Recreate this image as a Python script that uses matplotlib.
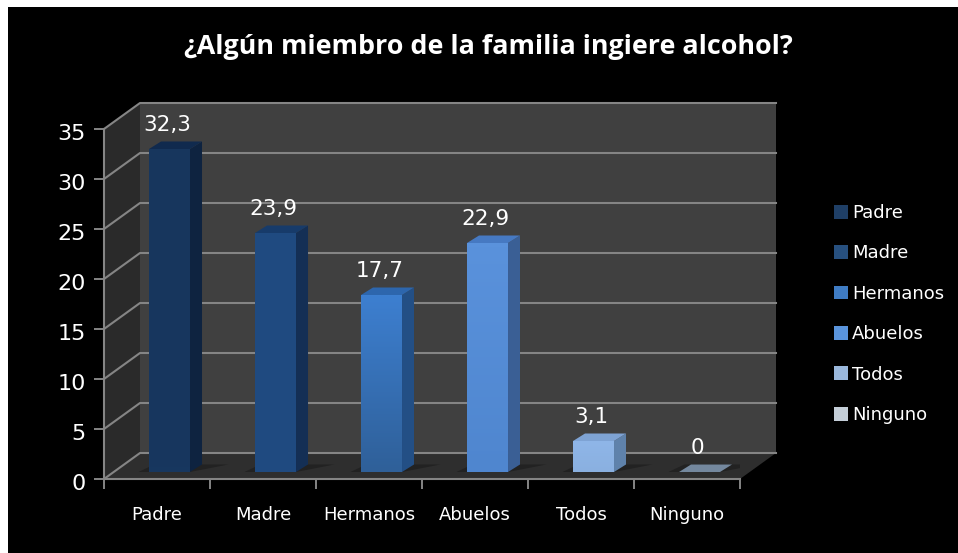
import matplotlib
matplotlib.use('Agg')
import matplotlib.pyplot as plt
from matplotlib.patches import Polygon, Patch
from matplotlib.transforms import ScaledTranslation
import numpy as np

categories = ['Padre', 'Madre', 'Hermanos', 'Abuelos', 'Todos', 'Ninguno']
values = [32.3, 23.9, 17.7, 22.9, 3.1, 0]
value_labels = ['32,3', '23,9', '17,7', '22,9', '3,1', '0']
yticks = [0, 5, 10, 15, 20, 25, 30, 35]
front_top = ['#17365d', '#1f4a80', '#3d7fd0', '#5a92dc', '#8fb6e8', '#a0b4cc']
front_bot = ['#17375f', '#1f4a80', '#2f6099', '#4f86cf', '#8ab0e0', '#a0b4cc']
side = ['#0e2340', '#142f55', '#234f85', '#3a5f95', '#5f82ab', '#6d8096']
top = ['#102a4e', '#173b6a', '#2d66ad', '#4679c2', '#7ea3d4', '#74889e']
legend_cols = ['#1f3f66', '#27507f', '#3f7cc4', '#5a94dc', '#9ab8dc', '#c4ced8']

W, H = 958, 553
fig = plt.figure(figsize=(W / 100, H / 100), dpi=100, facecolor='white')
bg = fig.add_axes([8 / W, 0, 1 - 8 / W, 1 - 7 / H], facecolor='black')
bg.set_xticks([])
bg.set_yticks([])
for s in bg.spines.values():
    s.set_visible(False)

# front plane of the fake 3d box: x 104-740, y 479-129 px
ax = fig.add_axes([104 / W, (H - 479) / H, 636 / W, 350 / H], facecolor='none')
ax.set_xlim(0, 6)
ax.set_ylim(0, 35)
for s in ax.spines.values():
    s.set_visible(False)

dx, dy = 36 / 106, 2.6    # depth of the box
bx, by = 0.118, 0.7       # bars stand a bit behind the front
bw = 41 / 106
bdx, bdy = 12 / 106, 0.75  # depth of each bar
grid = '#858585'

# walls
ax.add_patch(Polygon([(dx, dy), (6 + dx, dy), (6 + dx, 35 + dy), (dx, 35 + dy)],
                     fc='#404040', ec='none', clip_on=False, zorder=1))
ax.add_patch(Polygon([(0, 0), (dx, dy), (dx, 35 + dy), (0, 35)], fc='#2a2a2a', ec='none', clip_on=False, zorder=1))
ax.add_patch(Polygon([(0, 0), (6, 0), (6 + dx, dy), (dx, dy)], fc='#2e2e2e', ec='none', clip_on=False, zorder=1))

# gridlines and axes
for t in yticks:
    ax.plot([0, dx, 6 + dx], [t, t + dy, t + dy], color=grid, lw=1.5, clip_on=False, zorder=2)
ax.plot([0, 0], [0, 35], color=grid, lw=1.5, clip_on=False, zorder=3)
ax.plot([0, 6], [0, 0], color=grid, lw=1.5, clip_on=False, zorder=3)

# bars
for i, v in enumerate(values):
    x0 = i + 0.5 + bx - bw / 2
    x1 = x0 + bw
    ax.add_patch(Polygon([(x0 - 0.1, by), (x1, by), (x1 + bdx + 0.25, by + bdy), (x0 + 0.05, by + bdy)],
                         fc='#222222', ec='none', zorder=4))
    if v > 0:
        grad = np.linspace(0, 1, 64)[:, None, None]
        c0 = np.array(matplotlib.colors.to_rgb(front_top[i]))
        c1 = np.array(matplotlib.colors.to_rgb(front_bot[i]))
        ax.imshow(c0 + (c1 - c0) * grad, extent=[x0, x1, by, v + by], aspect='auto', zorder=5)
        ax.add_patch(Polygon([(x1, by), (x1 + bdx, by + bdy), (x1 + bdx, v + by + bdy), (x1, v + by)],
                             fc=side[i], ec='none', zorder=5))
    ax.add_patch(Polygon([(x0, v + by), (x1, v + by), (x1 + bdx, v + by + bdy), (x0 + bdx, v + by + bdy)],
                         fc=top[i], ec='none', zorder=5))
    ax.text(i + 0.5 + bx - 0.02, v + by + 1.4, value_labels[i], color='white', fontsize=15.5,
            ha='center', va='bottom', zorder=6)
ax.set_xlim(0, 6)
ax.set_ylim(0, 35)

ax.set_xticks(np.arange(7))
ax.set_xticklabels([])
ax.set_xticks(np.arange(6) + 0.5, categories, minor=True, color='white', fontsize=13)
ax.tick_params(axis='x', which='major', color=grid, length=7, width=1.4)
ax.tick_params(axis='x', which='minor', length=0, pad=19.5)
ax.set_yticks(yticks)
ax.tick_params(axis='y', color=grid, labelcolor='white', labelsize=16, length=7, width=1.4, pad=6)
down = ScaledTranslation(0, -2 / 72, fig.dpi_scale_trans)
for lab in ax.get_yticklabels():
    lab.set_transform(lab.get_transform() + down)

fig.text(488 / W, 1 - 47 / H, '¿Algún miembro de la familia ingiere alcohol?', color='white',
         fontsize=19.4, fontweight='bold', family='Open Sans', ha='center', va='center')

handles = [Patch(fc=c, ec='none') for c in legend_cols]
fig.legend(handles, categories, loc='upper left', bbox_to_anchor=(834 / W, 1 - 204 / H), frameon=False,
           labelcolor='white', fontsize=13, handlelength=0.8, handleheight=0.8, handletextpad=0.2,
           labelspacing=1.24, borderpad=0, borderaxespad=0)

fig.savefig('out.png', dpi=100, facecolor=fig.get_facecolor())
